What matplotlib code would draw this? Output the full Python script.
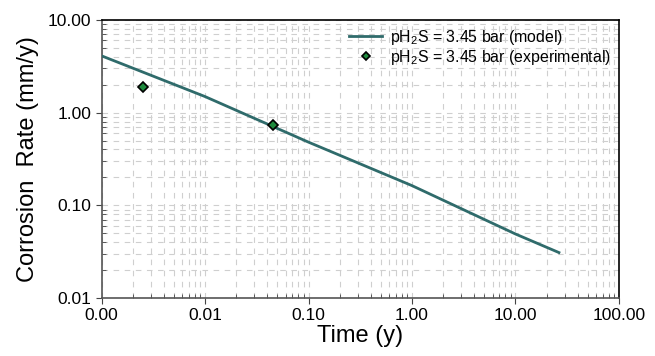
import matplotlib
matplotlib.use("Agg")
import matplotlib.pyplot as plt
from matplotlib.ticker import FormatStrFormatter, LogLocator

plt.rcParams["font.family"] = ["Liberation Sans", "DejaVu Sans"]
plt.rcParams["mathtext.fontset"] = "custom"
plt.rcParams["mathtext.rm"] = "Liberation Sans"

# model curve
model_time = [0.001, 0.01, 0.1, 1.0, 10.0, 26.3]
model_rate = [4.1, 1.49, 0.48, 0.163, 0.049, 0.0309]

# experimental points
exp_time = [0.00251, 0.0451]
exp_rate = [1.91, 0.74]

label_model = r"pH$_\mathregular{2}$S = 3.45 bar (model)"
label_exp = r"pH$_\mathregular{2}$S = 3.45 bar (experimental)"

fig = plt.figure(figsize=(6.55, 3.56), dpi=100)
ax = fig.add_axes([0.155, 0.163, 0.79, 0.781])

ax.plot(model_time, model_rate, color="#2f6b6b", lw=2, label=label_model, zorder=3)
ax.plot(exp_time, exp_rate, ls="none", marker="D", ms=5.5, mfc="#1f8a3e",
        mec="black", mew=1.2, label=label_exp, zorder=4)

ax.set_xscale("log")
ax.set_yscale("log")
ax.set_xlim(0.001, 100)
ax.set_ylim(0.01, 10)

for axis in (ax.xaxis, ax.yaxis):
    axis.set_major_locator(LogLocator(base=10))
    axis.set_minor_locator(LogLocator(base=10, subs=range(2, 10)))
    axis.set_major_formatter(FormatStrFormatter("%.2f"))
    axis.set_minor_formatter(plt.NullFormatter())

ax.grid(True, which="both", color="#cfcfcf", ls=(0, (5, 5)), lw=0.8, zorder=0)
ax.tick_params(which="major", direction="out", length=4, labelsize=12.5, color="#444444")
ax.tick_params(which="minor", direction="in", length=3, color="#444444")

for side in ("left", "bottom"):
    ax.spines[side].set_color("#555555")
    ax.spines[side].set_linewidth(1.2)
for side in ("top", "right"):
    ax.spines[side].set_color("black")
    ax.spines[side].set_linewidth(1.2)

ax.set_xlabel("Time (y)", fontsize=17, labelpad=1)
ax.set_ylabel("Corrosion  Rate (mm/y)", fontsize=17, labelpad=6)

ax.legend(loc="upper right", frameon=False, fontsize=11.4, handlelength=2.1,
          handletextpad=0.5, labelspacing=0.05, borderaxespad=0.2, borderpad=0.3,
          markerscale=0.75)

fig.savefig("out.png", dpi=100)
